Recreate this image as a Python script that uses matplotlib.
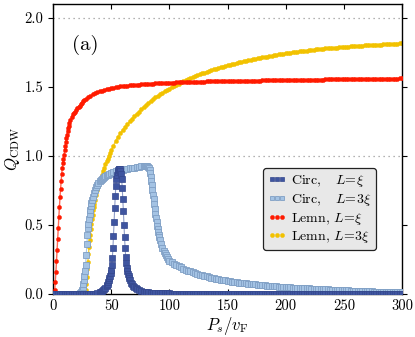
import numpy as np
import matplotlib
matplotlib.use("Agg")
import matplotlib.pyplot as plt

plt.rcParams['font.family'] = 'serif'
plt.rcParams['font.serif'] = ['cmr10', 'DejaVu Serif']
plt.rcParams['mathtext.fontset'] = 'cm'
plt.rcParams['axes.formatter.use_mathtext'] = True
plt.rcParams['axes.unicode_minus'] = False

# ---------------- data ----------------
# Lemn, L = xi  (red)
red_x = [0, 0.5, 1, 1.5, 2, 2.5, 3, 3.5, 4, 4.5, 5, 5.5, 6, 6.5, 7, 7.5, 8, 8.5, 9, 9.5,
         10, 10.5, 11, 11.5, 12, 12.5, 13, 13.5, 14, 15, 16, 17, 18, 19, 20, 21, 22, 23, 24,
         25, 26, 27, 28] + list(range(30, 301, 2))
red_y = [0.0, 0.0, 0.005, 0.03, 0.09, 0.16, 0.24, 0.32, 0.40, 0.48, 0.56, 0.63, 0.70, 0.76,
         0.82, 0.87, 0.91, 0.95, 0.98, 1.01, 1.04, 1.07, 1.10, 1.13, 1.155, 1.18, 1.20, 1.22,
         1.235, 1.26, 1.28, 1.30, 1.31, 1.32, 1.335, 1.345, 1.355, 1.365, 1.375, 1.385, 1.395,
         1.405, 1.412,
         # 30 .. 300 step 2
         1.425, 1.435, 1.445, 1.452, 1.460, 1.467, 1.473, 1.478, 1.483, 1.487,
         1.490, 1.494, 1.497, 1.500, 1.503, 1.505, 1.507, 1.509, 1.511, 1.513,
         1.514, 1.516, 1.517, 1.519, 1.520, 1.521, 1.522, 1.523, 1.524, 1.525,
         1.526, 1.527, 1.528, 1.529, 1.529, 1.530, 1.531, 1.531, 1.532, 1.533,
         1.533, 1.534, 1.534, 1.535, 1.535, 1.536, 1.536, 1.537, 1.537, 1.538,
         1.538, 1.539, 1.539, 1.540, 1.540, 1.540, 1.541, 1.541, 1.541, 1.542,
         1.542, 1.542, 1.543, 1.543, 1.543, 1.544, 1.544, 1.544, 1.545, 1.545,
         1.545, 1.546, 1.546, 1.546, 1.546, 1.547, 1.547, 1.547, 1.548, 1.548,
         1.548, 1.548, 1.549, 1.549, 1.549, 1.549, 1.550, 1.550, 1.550, 1.550,
         1.551, 1.551, 1.551, 1.551, 1.552, 1.552, 1.552, 1.552, 1.553, 1.553,
         1.553, 1.553, 1.554, 1.554, 1.554, 1.554, 1.555, 1.555, 1.555, 1.555,
         1.556, 1.556, 1.556, 1.556, 1.557, 1.557, 1.557, 1.557, 1.558, 1.558,
         1.558, 1.558, 1.558, 1.559, 1.559, 1.559, 1.559, 1.559, 1.560, 1.560,
         1.560, 1.560, 1.560, 1.560, 1.561, 1.561]

# Lemn, L = 3 xi  (yellow)
yel_x = list(range(0, 27, 2)) + [27, 27.5, 28, 28.5, 29, 29.5, 30, 30.5, 31, 31.5, 32, 32.5,
         33, 33.5, 34, 34.5, 35, 35.5, 36, 37, 38, 39, 40, 41, 42, 43, 44, 45, 46, 47, 48,
         49, 50] + list(range(52, 301, 2))
yel_y = [0.0] * 14 + [0.0, 0.01, 0.03, 0.07, 0.12, 0.18, 0.23, 0.29, 0.34, 0.39, 0.43, 0.47,
         0.51, 0.54, 0.575, 0.605, 0.63, 0.655, 0.68, 0.72, 0.755, 0.785, 0.815, 0.84, 0.865,
         0.89, 0.915, 0.94, 0.96, 0.98, 1.00, 1.02, 1.04,
         # 52 .. 300 step 2
         1.075, 1.110, 1.140, 1.165, 1.190, 1.210, 1.230, 1.250, 1.270, 1.290,
         1.305, 1.320, 1.340, 1.355, 1.370, 1.385, 1.400, 1.410, 1.425, 1.435,
         1.447, 1.458, 1.468, 1.478, 1.488, 1.497, 1.506, 1.515, 1.524, 1.532,
         1.540, 1.548, 1.556, 1.563, 1.570, 1.577, 1.584, 1.590, 1.597, 1.603,
         1.609, 1.615, 1.620, 1.626, 1.631, 1.636, 1.641, 1.646, 1.651, 1.656,
         1.660, 1.665, 1.669, 1.673, 1.677, 1.681, 1.685, 1.689, 1.693, 1.697,
         1.701, 1.704, 1.707, 1.710, 1.713, 1.716, 1.719, 1.722, 1.725, 1.729,
         1.732, 1.735, 1.738, 1.740, 1.743, 1.745, 1.748, 1.750, 1.753, 1.755,
         1.757, 1.759, 1.761, 1.763, 1.765, 1.767, 1.769, 1.771, 1.773, 1.774,
         1.776, 1.778, 1.779, 1.781, 1.782, 1.784, 1.785, 1.787, 1.788, 1.790,
         1.791, 1.792, 1.793, 1.794, 1.796, 1.797, 1.798, 1.799, 1.800, 1.801,
         1.802, 1.803, 1.804, 1.805, 1.806, 1.806, 1.807, 1.808, 1.809, 1.810,
         1.811, 1.812, 1.813, 1.814, 1.815]

# Circ, L = 3 xi  (light blue)
lb_x = list(range(0, 22, 2)) + [22, 23, 24, 24.5, 25, 25.5, 26, 26.5, 27, 27.5, 28, 28.5, 29,
        29.5, 30, 30.5, 31, 31.5, 32, 32.5, 33, 33.5, 34, 35, 36, 37, 38, 39, 40, 41, 42, 43,
        44, 45, 46, 47, 48, 50, 52, 54, 56, 58, 60, 62, 64, 66, 68, 70, 72, 74, 76, 78, 79,
        80, 81, 82, 82.5, 83, 83.5, 84, 84.5, 85, 85.5, 86, 86.5, 87, 87.5, 88, 88.5, 89,
        89.5, 90, 90.5, 91, 91.5, 92, 93, 94, 95, 96, 97, 98, 99] + list(range(100, 301, 2))
lb_y = [0.0] * 11 + [0.003, 0.007, 0.013, 0.02, 0.03, 0.05, 0.075, 0.10, 0.13, 0.17, 0.21,
        0.28, 0.36, 0.43, 0.48, 0.51, 0.54, 0.58, 0.61, 0.635, 0.66, 0.68, 0.70, 0.73, 0.755,
        0.775, 0.79, 0.805, 0.815, 0.825, 0.835, 0.843, 0.85, 0.855, 0.86, 0.865, 0.87, 0.878,
        0.884, 0.889, 0.893, 0.897, 0.900, 0.903, 0.906, 0.909, 0.912, 0.915, 0.918, 0.921,
        0.924, 0.927, 0.929, 0.930, 0.929, 0.92, 0.91, 0.895, 0.875, 0.85, 0.82, 0.79, 0.755,
        0.72, 0.685, 0.65, 0.615, 0.58, 0.55, 0.52, 0.495, 0.47, 0.45, 0.43, 0.41, 0.39, 0.36,
        0.335, 0.31, 0.295, 0.28, 0.265, 0.252,
        # 100 .. 300 step 2
        0.240, 0.229, 0.219, 0.209, 0.200, 0.192, 0.184, 0.177, 0.170, 0.163,
        0.157, 0.151, 0.145, 0.140, 0.135, 0.131, 0.127, 0.123, 0.119, 0.115,
        0.111, 0.108, 0.104, 0.101, 0.098, 0.095, 0.093, 0.090, 0.088, 0.086,
        0.083, 0.081, 0.079, 0.077, 0.075, 0.073, 0.071, 0.069, 0.067, 0.066,
        0.064, 0.063, 0.061, 0.060, 0.058, 0.057, 0.055, 0.054, 0.053, 0.052,
        0.050, 0.049, 0.048, 0.047, 0.046, 0.045, 0.044, 0.043, 0.042, 0.041,
        0.040, 0.039, 0.038, 0.037, 0.036, 0.035, 0.035, 0.034, 0.033, 0.032,
        0.031, 0.030, 0.029, 0.029, 0.028, 0.027, 0.026, 0.026, 0.025, 0.024,
        0.023, 0.023, 0.022, 0.021, 0.021, 0.020, 0.019, 0.019, 0.018, 0.018,
        0.017, 0.017, 0.016, 0.016, 0.015, 0.015, 0.014, 0.014, 0.013, 0.013,
        0.012]

# Circ, L = xi  (dark blue)
db_x = list(range(0, 37, 2)) + [38, 40, 41, 42, 43, 44, 45, 46, 46.5, 47, 47.5, 48, 48.5,
        49, 49.5, 50, 50.5, 51, 51.5, 52, 52.5, 53, 53.5, 54, 54.5, 55, 55.5, 56, 56.5, 57,
        57.5, 58, 58.5, 59, 59.5, 60, 60.5, 61, 61.5, 62, 62.5, 63, 63.5, 64, 64.5, 65, 65.5,
        66, 67, 68, 69, 70, 71, 72, 74, 76, 78] + list(range(80, 301, 2))
db_y = [0.0] * 19 + [0.008, 0.014, 0.018, 0.022, 0.028, 0.035, 0.045, 0.058, 0.066, 0.076,
        0.087, 0.10, 0.115, 0.132, 0.152, 0.175, 0.21, 0.26, 0.33, 0.42, 0.52, 0.62, 0.71,
        0.78, 0.83, 0.865, 0.885, 0.897, 0.903, 0.905, 0.902, 0.893, 0.87, 0.83, 0.77, 0.69,
        0.60, 0.50, 0.41, 0.33, 0.27, 0.225, 0.19, 0.165, 0.145, 0.128, 0.114, 0.102, 0.083,
        0.069, 0.058, 0.049, 0.042, 0.036, 0.028, 0.022, 0.018,
        # 80 .. 300 step 2
        0.015, 0.012, 0.010, 0.009, 0.008, 0.007, 0.006, 0.005, 0.005, 0.004,
        0.004, 0.003, 0.003, 0.003, 0.002, 0.002, 0.002, 0.002, 0.001, 0.001] + [0.001] * 91

xticks = [0, 50, 100, 150, 200, 250, 300]
yticks = [0.0, 0.5, 1.0, 1.5, 2.0]

# ---------------- figure ----------------
fig = plt.figure(figsize=(4.15, 3.37), dpi=100)
ax = fig.add_axes([53 / 415, 43 / 337, 349 / 415, 290 / 337])

for yv in (1.0, 2.0):
    ax.axhline(yv, color='#999999', lw=0.9, ls=(0, (1, 3)), zorder=0)

h_yel, = ax.plot(yel_x, yel_y, '-o', color='#f5cf3a', mfc='#f2c200', mec='#f2c200',
                 ms=3.0, mew=0.3, lw=1.0, zorder=2, label=r'Lemn, $L\!=\!3\xi$')
h_red, = ax.plot(red_x, red_y, '-o', color='#ff6a55', mfc='#ff1a00', mec='#ff1a00',
                 ms=3.0, mew=0.3, lw=1.0, zorder=3, label=r'Lemn, $L\!=\!\xi$')
h_lb, = ax.plot(lb_x, lb_y, '-s', color='#a9c8e6', mfc='#a4c3e4', mec='#7f9fc4',
                ms=3.9, mew=0.6, lw=0.8, zorder=4, label=r'Circ, $\;\;\;L\!=\!3\xi$')
h_db, = ax.plot(db_x, db_y, '-s', color='#8e9cc8', mfc='#3f55a0', mec='#34478c',
                ms=3.7, mew=0.5, lw=0.8, zorder=5, label=r'Circ, $\;\;\;L\!=\!\xi$')

ax.set_xlim(0, 300)
ax.set_ylim(0, 2.1)
ax.set_xticks(xticks)
ax.set_yticks(yticks)
ax.set_xticklabels([str(v) for v in xticks])
ax.set_yticklabels(['%.1f' % v for v in yticks])
ax.tick_params(axis='x', labelsize=10.5, direction='in', length=3.5, width=0.8,
               top=True, pad=4)
ax.tick_params(axis='y', labelsize=10.5, direction='out', length=3.5, width=0.8,
               right=True)
for s in ax.spines.values():
    s.set_linewidth(1.0)

ax.set_xlabel(r'$P_s/v_{\rm F}$', fontsize=12, labelpad=1)
ax.set_ylabel(r'$Q_{\rm CDW}$', fontsize=12)
ax.yaxis.set_label_coords(-0.088, 0.5)

ax.text(0.055, 0.84, '(a)', transform=ax.transAxes, fontsize=15)

leg = ax.legend(handles=[h_db, h_lb, h_red, h_yel], loc='upper left',
                bbox_to_anchor=(0.602, 0.434), borderaxespad=0, fontsize=10,
                numpoints=3, handlelength=1.3, handletextpad=0.35, labelspacing=0.2,
                borderpad=0.35, fancybox=True, framealpha=1)
leg.get_frame().set_facecolor('#e8e8e8')
leg.get_frame().set_edgecolor('#222222')
leg.get_frame().set_linewidth(0.9)
for lh in leg.get_lines():
    lh.set_linestyle('none')
    lh.set_markersize(3.0)

fig.savefig('out.png', dpi=100)
